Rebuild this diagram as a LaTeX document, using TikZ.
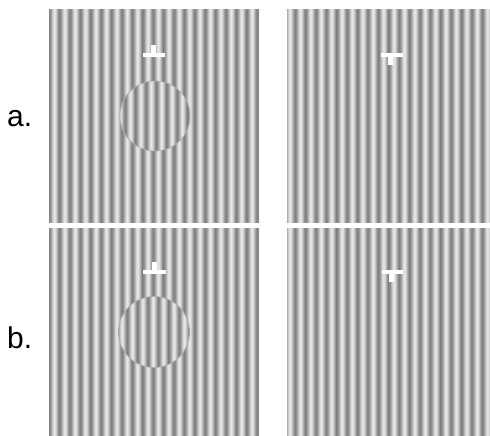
\documentclass[tikz,border=0pt]{standalone}
\usepackage{fontspec}
\setmainfont{Liberation Sans}
\usetikzlibrary{calc,positioning}
\pgfdeclarehorizontalshading{grating}{100bp}{gray(0bp)=(0.51); gray(25bp)=(0.51); gray(31.25bp)=(0.57); gray(37.5bp)=(0.71); gray(43.75bp)=(0.85); gray(50bp)=(0.91); gray(56.25bp)=(0.85); gray(62.5bp)=(0.71); gray(68.75bp)=(0.57); gray(75bp)=(0.51); gray(100bp)=(0.51)}
\def\gp{10.4}
%% one row of grating periods, starting at #1 shifted by #2, #3 periods
\newcommand{\gratingstrips}[3]{%
  \foreach \k in {-1,...,#3}
    \shade[shading=grating] ($(#1)+(#2+\k*\gp,0)$) rectangle +(\gp,230);
}
\tikzset{
  panel/.style={fill=black!49, inner sep=0pt, outer sep=0pt, anchor=north west},
  tee/.style={fill=white},
  rim/.style={draw=black!32, line width=1pt, opacity=0.7},
  lbl/.style={font=\fontsize{30}{36}\selectfont, inner sep=0pt, anchor=base west}
}
\begin{document}
\begin{tikzpicture}[x=1pt, y=-1pt]
  \useasboundingbox (0,0) rectangle (490,436);

  %% panels
  \node[panel, minimum width=210pt, minimum height=212pt] (pa) at (49,10) {};
  \node[panel, minimum width=203pt, minimum height=212pt] (qa) at (287,10) {};
  \node[panel, minimum width=210pt, minimum height=208pt] (pb) at (49,228) {};
  \node[panel, minimum width=203pt, minimum height=208pt] (qb) at (287,228) {};

  %% gratings
  \begin{scope}
    \clip (pa.north west) rectangle (pa.south east);
    \gratingstrips{pa.north west}{0}{21}
  \end{scope}
  \begin{scope}
    \clip (qa.north west) rectangle (qa.south east);
    \gratingstrips{qa.north west}{8}{20}
  \end{scope}
  \begin{scope}
    \clip (pb.north west) rectangle (pb.south east);
    \gratingstrips{pb.north west}{0}{21}
  \end{scope}
  \begin{scope}
    \clip (qb.north west) rectangle (qb.south east);
    \gratingstrips{qb.north west}{8}{20}
  \end{scope}

  %% shifted discs
  \coordinate (ca) at (155,116);
  \coordinate (cb) at (154,332);
  \begin{scope}
    \clip (ca) circle[radius=35pt];
    \gratingstrips{pa.north west}{3.2}{21}
  \end{scope}
  \draw[rim] (ca) circle[radius=35pt];
  \begin{scope}
    \clip (cb) circle[radius=35.5pt];
    \gratingstrips{pb.north west}{5.2}{21}
  \end{scope}
  \draw[rim] (cb) circle[radius=35.5pt];

  %% markers
  \fill[tee] (151,45) rectangle (156,53);
  \fill[tee] (143,53) rectangle (165,57);
  \fill[tee] (381,53) rectangle (403,57);
  \fill[tee] (388,57) rectangle (393,65);
  \fill[tee] (152,262) rectangle (157,270);
  \fill[tee] (143,270) rectangle (166,274);
  \fill[tee] (382,270) rectangle (403,274);
  \fill[tee] (389,274) rectangle (394,282);

  %% labels
  \node[lbl] (la) at (7,126) {a.};
  \node[lbl] (lb) at (7,348) {b.};
\end{tikzpicture}
\end{document}
